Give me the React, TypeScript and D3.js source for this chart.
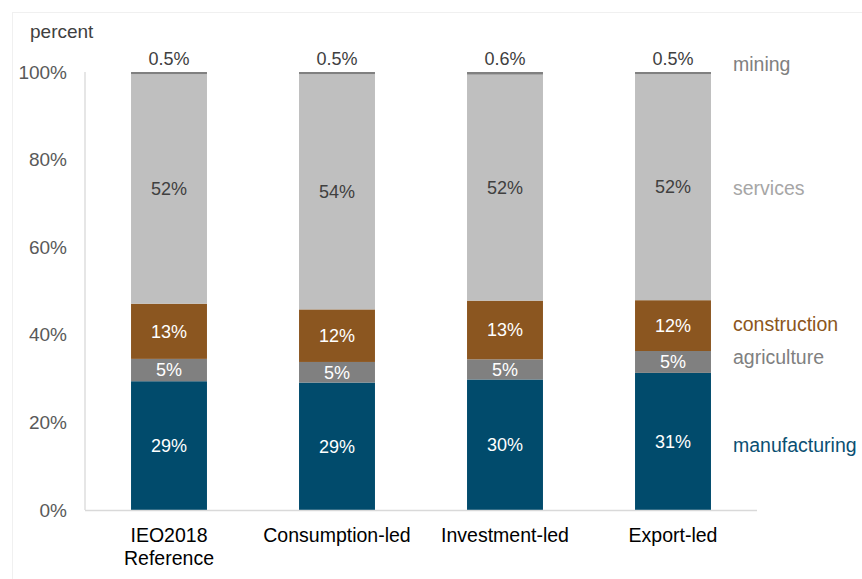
import React from "react";
import * as d3 from "d3";

const categories = ["IEO2018|Reference", "Consumption-led", "Investment-led", "Export-led"];
const sectors = ["manufacturing", "agriculture", "construction", "services", "mining"];
const manufacturing = [29.4, 29.1, 29.8, 31.3];
const agriculture = [5.1, 4.7, 4.6, 5.0];
const construction = [12.6, 12.0, 13.4, 11.6];
const services = [52.4, 53.7, 51.6, 51.6];
const mining = [0.5, 0.5, 0.6, 0.5];
const yTicks = [0, 20, 40, 60, 80, 100];

const fills: Record<string, string> = {
  manufacturing: "#014b6c",
  agriculture: "#808080",
  construction: "#8b5620",
  services: "#bfbfbf",
  mining: "#808080",
};
const labelColors: Record<string, string> = {
  manufacturing: "#ffffff",
  agriculture: "#ffffff",
  construction: "#ffffff",
  services: "#404040",
  mining: "#404040",
};
const legendColors: Record<string, string> = {
  manufacturing: "#0b4f72",
  agriculture: "#808080",
  construction: "#8b5620",
  services: "#a6a6a6",
  mining: "#808080",
};
const legendY: Record<string, number> = {
  mining: 64,
  services: 188,
  construction: 324,
  agriculture: 357,
  manufacturing: 445,
};

const W = 862;
const H = 579;
const FONT = "'Liberation Sans', Arial, sans-serif";

export default function App() {
  const x = d3.scaleBand<string>().domain(categories).range([85, 757]).paddingInner(0.548).paddingOuter(0.274);
  const y = d3.scaleLinear().domain([0, 100]).range([510, 72]);

  const rows = categories.map((c, i) => ({
    cat: c,
    manufacturing: manufacturing[i],
    agriculture: agriculture[i],
    construction: construction[i],
    services: services[i],
    mining: mining[i],
  }));
  const stack = d3.stack<any>().keys(sectors)(rows);
  const bw = x.bandwidth();

  return (
    <svg width={W} height={H} style={{ position: "absolute", left: 0, top: 0, background: "#fff" }} fontFamily={FONT}>
      <rect x={12.5} y={12.5} width={W} height={H} fill="none" stroke="#f0f0f0" />
      <text x={30} y={38} fontSize={19} fill="#404040">percent</text>
      {yTicks.map((t) => (
        <text key={t} x={67} y={y(t)} dy="0.35em" textAnchor="end" fontSize={19} fill="#595959">
          {t + "%"}
        </text>
      ))}
      <line x1={85} x2={85} y1={72} y2={510} stroke="#d9d9d9" strokeWidth={1.3} />
      {stack.map((layer) => (
        <g key={layer.key}>
          {layer.map((d, i) => {
            const cx = (x(categories[i]) as number) + bw / 2;
            const v = d[1] - d[0];
            const key = layer.key as string;
            const label = key === "mining" ? v.toFixed(1) + "%" : Math.round(v) + "%";
            const ly = key === "mining" ? y(d[1]) - 7 : (y(d[0]) + y(d[1])) / 2;
            return (
              <g key={i}>
                <rect x={x(categories[i])} y={y(d[1])} width={bw} height={y(d[0]) - y(d[1])} fill={fills[key]} />
                <text x={cx} y={ly} dy={key === "mining" ? 0 : "0.35em"} textAnchor="middle" fontSize={18} fill={labelColors[key]}>
                  {label}
                </text>
              </g>
            );
          })}
        </g>
      ))}
      <line x1={85} x2={757} y1={510.5} y2={510.5} stroke="#d9d9d9" strokeWidth={1.3} />
      {categories.map((c) => {
        const lines = c.split("|");
        const cx = (x(c) as number) + bw / 2;
        return (
          <text key={c} x={cx} y={542} textAnchor="middle" fontSize={19.5} fill="#000">
            {lines.map((l, j) => (
              <tspan key={j} x={cx} dy={j === 0 ? 0 : 23}>{l}</tspan>
            ))}
          </text>
        );
      })}
      {sectors.map((s) => (
        <text key={s} x={733} y={legendY[s]} dy="0.35em" fontSize={19.5} fill={legendColors[s]}>
          {s}
        </text>
      ))}
    </svg>
  );
}
